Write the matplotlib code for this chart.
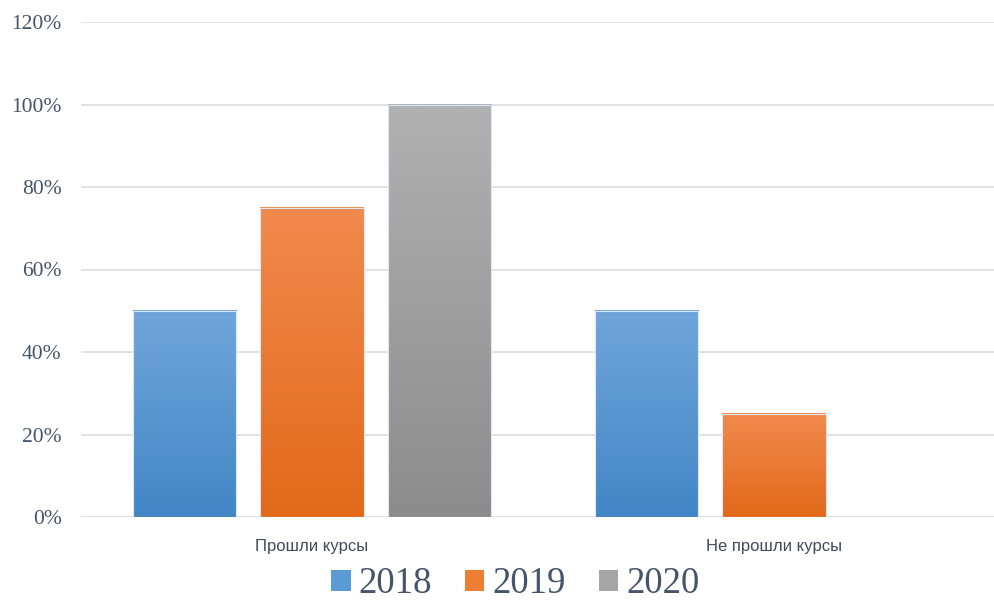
import numpy as np
import matplotlib.pyplot as plt
from matplotlib.patches import Patch
from matplotlib.colors import LinearSegmentedColormap
from matplotlib.ticker import FuncFormatter

categories = ['Прошли курсы', 'Не прошли курсы']
years = ['2018', '2019', '2020']
values = {
    '2018': [0.50, 0.50],
    '2019': [0.75, 0.25],
    '2020': [1.00, 0.00],
}
# top / bottom gradient colours per series
grad = {
    '2018': ('#6fa6da', '#4386c6'),
    '2019': ('#f18a4e', '#e2691a'),
    '2020': ('#b1b1b1', '#8c8c8c'),
}
mid = {'2018': '#5a9bd5', '2019': '#ed7d31', '2020': '#a5a5a5'}

W, H = 994, 602
fig = plt.figure(figsize=(W / 100, H / 100), dpi=100)
ax = fig.add_axes([81 / W, (H - 517) / H, (W - 81) / W, (517 - 22) / H])

x = np.arange(len(categories))
bw = 0.223
step = 0.277

for i, yr in enumerate(years):
    bars = ax.bar(x + (i - 1) * step, values[yr], width=bw, color='none',
                  edgecolor='#dce8f5', linewidth=0.8, zorder=3)
    cmap = LinearSegmentedColormap.from_list(yr, [grad[yr][1], grad[yr][0]])
    for b in bars:
        h = b.get_height()
        if h <= 0:
            continue
        x0 = b.get_x()
        g = np.linspace(0, 1, 256).reshape(-1, 1)
        ax.imshow(g, extent=[x0, x0 + b.get_width(), 0, h], origin='lower',
                  aspect='auto', cmap=cmap, zorder=2)

ax.set_xlim(-0.5, 1.5 - 11 / 462)
ax.set_ylim(0, 1.2)
ax.set_yticks(np.arange(0, 1.21, 0.2))
ax.yaxis.set_major_formatter(FuncFormatter(lambda v, p: f'{v * 100:.0f}%'))
ax.grid(axis='y', color='#d9dde3', linewidth=1.2, zorder=0)
ax.set_axisbelow(True)
for s in ax.spines.values():
    s.set_visible(False)

ax.tick_params(axis='y', length=0, pad=14, labelsize=15.5, labelcolor='#44546a')
for t in ax.get_yticklabels():
    t.set_fontfamily('Liberation Serif')
ax.set_xticks(x)
ax.set_xticklabels(categories, fontsize=12, color='#404a5a', family='Liberation Sans')
ax.tick_params(axis='x', length=0, pad=16)

handles = [Patch(facecolor=mid[yr], label=yr) for yr in years]
leg = fig.legend(handles=handles, loc='center', bbox_to_anchor=(515.5 / W, 1 - 584 / H),
                 ncol=3, frameon=False, handlelength=0.52, handleheight=0.5,
                 handletextpad=0.22, columnspacing=0.9, borderpad=0,
                 prop={'family': 'Liberation Serif', 'size': 26.5})
for t in leg.get_texts():
    t.set_color('#44546a')

fig.savefig('out.png', dpi=100)
